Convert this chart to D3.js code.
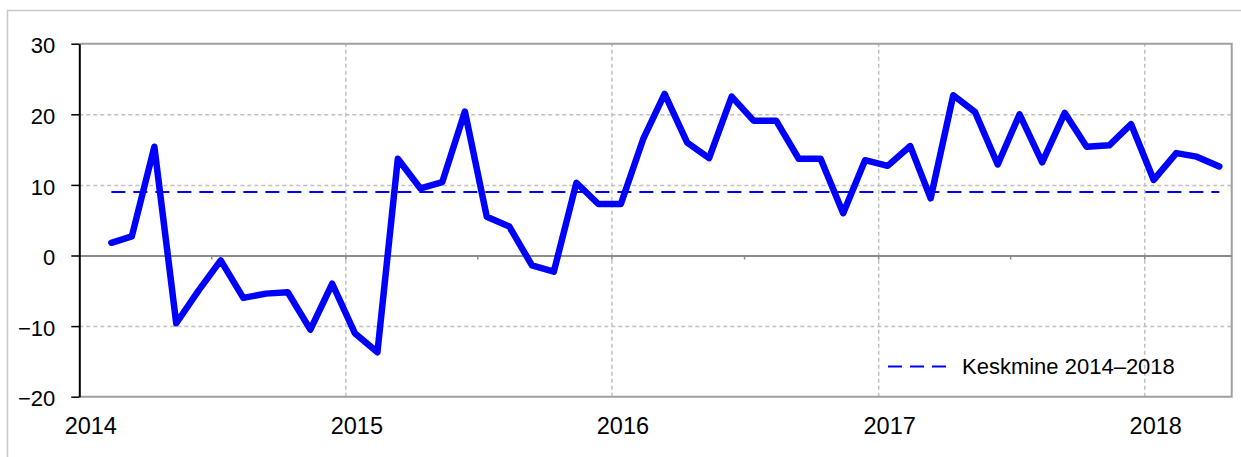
<!DOCTYPE html>
<html>
<head>
<meta charset="utf-8">
<script src="https://cdn.jsdelivr.net/npm/d3@7"></script>
<style>
  body { margin: 0; background: #fff; }
  svg { display: block; font-family: "Liberation Sans", Arial, sans-serif; }
  .grid line { stroke: #c0c0c0; stroke-width: 1.5; stroke-dasharray: 4 3; }
  .grid path { display: none; }
  .axis__y path, .axis__y line { stroke: #000; }
  .axis__y text { fill: #000; font-size: 22px; }
  .axis__x text { fill: #000; font-size: 23.5px; }
  .legend text { fill: #000; font-size: 22px; }
</style>
</head>
<body>
<svg id="chart" width="1241" height="457"></svg>
<script>
// monthly values, Feb 2014 .. Apr 2018
const months = d3.timeMonths(new Date(2014, 1, 1), new Date(2018, 4, 1));
const values = [
  1.8, 2.7, 15.4, -9.6, -4.9, -0.7, -6.0, -5.4, -5.2, -10.5, -4.0,
  -11.0, -13.7, 13.7, 9.5, 10.4, 20.4, 5.5, 4.1, -1.4, -2.3, 10.3, 7.3,
  7.3, 16.6, 22.9, 16.0, 13.8, 22.5, 19.1, 19.1, 13.7,
  13.7, 6.0, 13.5, 12.7, 15.5, 8.1, 22.7, 20.3, 12.9, 20.0, 13.2, 20.2, 15.4, 15.6, 18.6,
  10.7, 14.5, 14.0, 12.6
];
const meanValue = 9.0;
const meanLabel = "Keskmine 2014–2018";
const yTicks = [-20, -10, 0, 10, 20, 30];
const yearTicks = [2014, 2015, 2016, 2017, 2018].map((y) => new Date(y, 0, 1));

const data = months.map((m, i) => ({ date: new Date(m.getFullYear(), m.getMonth(), 14), value: values[i] }));

const margin = { top: 43.7, left: 79.3 };
const width = 1231.7 - margin.left;
const height = 396.7 - margin.top;

const svgEl = d3.select("#chart");

// outer frame
svgEl.append("rect")
  .attr("x", 7.5).attr("y", 10.5)
  .attr("width", 1300).attr("height", 500)
  .attr("fill", "#fff").attr("stroke", "#c8c8c8").attr("stroke-width", 1.5);

const svg = svgEl.append("g").attr("transform", `translate(${margin.left},${margin.top})`);

const xScale = d3.scaleTime()
  .domain([new Date(2014, 0, 1), new Date(2018, 4, 1)])
  .range([0, width]);
const yScale = d3.scaleLinear().domain([-20, 30]).range([height, 0]);

// horizontal gridlines
svg.append("g")
  .attr("class", "grid gridlines__x")
  .call(d3.axisLeft(yScale).tickValues([20, 10, -10]).tickSize(-width).tickFormat(""));

// vertical gridlines
svg.append("g")
  .attr("class", "grid gridlines__y")
  .attr("transform", `translate(0,${height})`)
  .call(d3.axisBottom(xScale).tickValues(yearTicks.slice(1)).tickSize(height).tickFormat(""))
  .selectAll("line").attr("y2", -height);

// plot frame (top, right, bottom)
svg.append("path")
  .attr("d", `M0,0H${width}V${height}H0`)
  .attr("fill", "none").attr("stroke", "#a0a0a0").attr("stroke-width", 2);

// zero line with half-year ticks
const zeroAxis = svg.append("g")
  .attr("transform", `translate(0,${yScale(0)})`)
  .call(d3.axisBottom(xScale)
    .tickValues(d3.timeMonths(new Date(2014, 6, 1), new Date(2018, 1, 1), 6))
    .tickSize(4).tickSizeOuter(0).tickFormat(""));
zeroAxis.select("path").attr("stroke", "#8c8c8c").attr("stroke-width", 2);
zeroAxis.selectAll("line").attr("stroke", "#8c8c8c").attr("stroke-width", 1.5);

// y axis
const yAxis = svg.append("g")
  .attr("class", "axis__y")
  .call(d3.axisLeft(yScale).tickValues(yTicks).tickSize(8).tickSizeOuter(0).tickPadding(16));
yAxis.select("path").attr("stroke-width", 2);
yAxis.selectAll("line").attr("stroke-width", 1.5);
yAxis.selectAll("text").attr("font-family", null).attr("font-size", null).attr("dy", "0.42em");

// year labels
const xAxis = svg.append("g")
  .attr("class", "axis__x")
  .attr("transform", `translate(0,${height})`)
  .call(d3.axisBottom(xScale).tickValues(yearTicks).tickSize(0).tickFormat(d3.timeFormat("%Y")));
xAxis.select("path").remove();
xAxis.selectAll("text")
  .attr("font-family", null).attr("font-size", null)
  .attr("x", 11).attr("y", 37.6).attr("dy", null);

// mean line
const first = data[0].date, last = data[data.length - 1].date;
svg.append("line")
  .attr("x1", xScale(first)).attr("x2", xScale(last))
  .attr("y1", yScale(meanValue)).attr("y2", yScale(meanValue))
  .attr("stroke", "#0000ff").attr("stroke-width", 2).attr("stroke-dasharray", "14 8");

// main series
const line = d3.line().x((d) => xScale(d.date)).y((d) => yScale(d.value));
svg.append("path")
  .datum(data)
  .attr("d", line)
  .attr("fill", "none")
  .attr("stroke", "#0000ff")
  .attr("stroke-width", 6.5)
  .attr("stroke-linejoin", "round")
  .attr("stroke-linecap", "round");

// legend
const legend = svgEl.append("g").attr("class", "legend").attr("transform", "translate(888,366.5)");
legend.append("line")
  .attr("x1", 0).attr("x2", 59).attr("y1", 0).attr("y2", 0)
  .attr("stroke", "#0000ff").attr("stroke-width", 2).attr("stroke-dasharray", "14 8");
legend.append("text")
  .attr("x", 74).attr("dy", "0.36em")
  .text(meanLabel);
</script>
</body>
</html>
